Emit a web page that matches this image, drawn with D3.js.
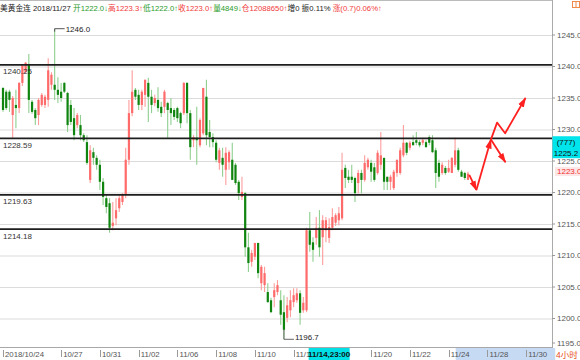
<!DOCTYPE html>
<html>
<head>
<meta charset="utf-8">
<script src="https://cdn.jsdelivr.net/npm/d3@7"></script>
<style>
  body { margin: 0; background: #fff; }
  svg { display: block; font-family: "Liberation Sans", Arial, "Noto Sans CJK SC", sans-serif; }
</style>
</head>
<body>
<div id="chart"></div>
<script>
// 4h bars, 2018/10/24 .. 2018/11/27
var opens  = [1236.6,1236.0,1236.0,1232.3,1233.9,1233.4,1237.4,1239.1,1240.4,1234.4,
              1233.1,1232.3,1233.9,1233.9,1234.7,1237.1,1237.1,1236.3,1236.0,1237.4,
              1235.8,1233.9,1231.8,1230.7,1230.7,1229.1,1228.0,1222.0,1226.4,1225.5,
              1224.4,1221.7,1219.1,1218.3,1214.7,1215.9,1217.5,1218.5,1219.6,1225.2,
              1232.6,1236.3,1235.5,1233.9,1235.5,1237.4,1235.2,1234.2,1234.7,1233.6,
              1233.6,1234.2,1233.4,1233.1,1233.4,1232.6,1232.6,1237.4,1232.6,1228.3,
              1228.7,1227.5,1229.4,1235.2,1229.6,1228.8,1227.9,1224.7,1225.5,1223.6,
              1224.8,1225.2,1224.4,1221.7,1219.3,1219.9,1211.3,1209.0,1209.8,1212.0,
              1205.6,1205.3,1204.2,1202.9,1203.4,1204.2,1202.9,1201.0,1200.1,1201.3,
              1202.6,1202.9,1204.0,1201.3,1201.3,1214.0,1212.1,1212.8,1214.4,1212.9,
              1214.0,1212.8,1214.4,1215.2,1215.6,1215.9,1223.9,1222.5,1222.5,1222.3,
              1221.5,1223.1,1222.0,1224.0,1224.7,1224.0,1223.1,1224.4,1225.5,1222.5,
              1221.7,1220.7,1223.1,1223.1,1225.9,1227.9,1227.1,1228.0,1228.3,1228.0,
              1227.9,1228.0,1228.8,1228.3,1226.7,1224.7,1223.1,1223.9,1223.3,1223.1,
              1224.4,1226.7,1223.3,1223.1,1222.0];
var highs  = [1236.7,1236.3,1236.3,1235.3,1236.3,1237.5,1240.4,1240.7,1242.0,1234.7,
              1233.4,1235.0,1235.8,1235.5,1241.3,1239.1,1246.0,1238.3,1237.4,1237.5,
              1236.0,1234.7,1233.4,1232.6,1232.3,1229.4,1229.1,1227.5,1227.1,1225.9,
              1225.2,1222.3,1219.6,1219.1,1218.5,1219.1,1219.6,1219.9,1227.1,1234.7,
              1239.4,1236.6,1236.3,1236.3,1237.9,1238.2,1236.3,1235.5,1236.7,1234.4,
              1236.3,1234.4,1235.0,1233.4,1233.6,1232.8,1237.5,1237.5,1233.1,1229.1,
              1233.6,1231.8,1236.6,1237.9,1231.5,1229.4,1228.3,1227.1,1227.1,1227.2,
              1226.7,1227.9,1224.7,1222.0,1222.5,1220.1,1213.6,1210.9,1212.0,1212.0,
              1208.5,1208.2,1205.6,1203.3,1205.6,1206.1,1204.5,1203.7,1203.4,1204.5,
              1204.8,1204.8,1204.5,1203.4,1214.4,1216.9,1212.9,1216.1,1217.2,1216.4,
              1216.1,1215.9,1217.5,1216.7,1217.7,1226.3,1224.4,1223.6,1224.4,1222.5,
              1223.6,1223.6,1225.9,1225.5,1225.2,1224.7,1226.7,1229.6,1225.5,1222.5,
              1222.8,1223.6,1225.2,1227.1,1230.7,1228.0,1228.2,1229.1,1229.6,1228.3,
              1228.7,1228.3,1229.1,1229.1,1227.1,1225.2,1224.8,1224.2,1225.2,1225.6,
              1228.7,1227.1,1223.6,1223.3,1223.3];
var lows   = [1232.8,1233.1,1232.8,1228.7,1230.2,1232.6,1236.9,1238.8,1232.6,1232.5,
              1230.7,1230.7,1233.6,1233.4,1233.6,1236.3,1234.7,1234.2,1234.4,1235.8,
              1229.6,1230.7,1228.3,1230.2,1228.3,1228.0,1224.4,1221.5,1224.4,1223.6,
              1220.4,1218.0,1216.7,1213.6,1214.0,1214.8,1216.9,1218.0,1219.1,1224.4,
              1232.1,1234.7,1233.1,1233.1,1233.6,1231.2,1232.6,1233.7,1232.8,1232.0,
              1232.6,1228.7,1230.7,1231.5,1231.2,1230.2,1232.3,1231.0,1225.2,1227.2,
              1224.4,1227.2,1229.1,1227.5,1227.2,1227.2,1224.8,1223.6,1222.5,1221.2,
              1223.6,1222.0,1221.2,1218.8,1218.8,1209.8,1207.4,1208.2,1209.3,1206.4,
              1204.5,1204.2,1202.5,1200.9,1201.8,1203.7,1199.0,1196.7,1199.4,1200.2,
              1201.8,1202.5,1199.0,1200.9,1201.0,1210.6,1209.0,1211.7,1209.8,1208.5,
              1212.1,1212.0,1214.0,1214.7,1214.8,1215.6,1220.7,1221.5,1221.5,1218.5,
              1219.9,1219.9,1221.7,1223.6,1221.7,1221.7,1222.8,1223.6,1220.4,1220.4,
              1220.4,1220.4,1222.5,1222.8,1225.6,1225.9,1226.7,1227.5,1227.5,1227.2,
              1227.5,1227.1,1227.5,1226.3,1220.7,1221.7,1222.8,1222.8,1223.1,1223.1,
              1224.0,1223.3,1222.5,1222.0,1222.0];
var closes = [1233.1,1233.4,1234.7,1235.0,1233.4,1237.4,1240.2,1240.6,1234.7,1232.8,
              1231.8,1234.7,1235.5,1235.2,1239.4,1238.7,1236.3,1235.5,1235.0,1236.0,
              1230.7,1231.2,1229.1,1232.3,1229.1,1228.3,1224.7,1226.7,1225.5,1224.4,
              1221.7,1219.3,1217.7,1214.4,1215.2,1217.2,1219.1,1219.6,1225.2,1232.6,
              1236.0,1235.2,1233.9,1236.0,1237.9,1235.2,1233.9,1235.0,1233.4,1232.6,
              1236.0,1233.1,1232.6,1232.0,1231.8,1231.0,1237.4,1232.6,1227.2,1228.8,
              1228.3,1231.5,1236.6,1229.1,1228.8,1228.0,1225.2,1226.7,1224.4,1226.3,
              1226.4,1222.0,1221.5,1219.9,1220.1,1211.3,1208.8,1210.4,1212.0,1207.2,
              1208.2,1207.2,1202.6,1201.0,1204.5,1205.3,1200.6,1198.2,1202.1,1202.9,
              1203.7,1204.0,1200.9,1202.5,1214.0,1211.7,1210.9,1214.4,1211.3,1215.6,
              1215.6,1214.5,1216.1,1216.4,1216.7,1223.6,1222.3,1222.0,1222.0,1219.9,
              1223.1,1222.0,1224.7,1225.2,1223.3,1222.0,1226.3,1225.9,1221.7,1221.7,
              1222.5,1223.3,1225.2,1226.7,1227.9,1226.3,1227.9,1227.5,1227.9,1227.5,
              1228.3,1227.2,1227.9,1226.4,1223.1,1222.5,1224.4,1223.1,1223.9,1225.5,
              1226.7,1223.6,1222.5,1222.3,1223.0];

var levels     = [1240.25, 1228.59, 1219.63, 1214.18];
var priceTicks = [1245, 1240, 1235, 1230, 1225, 1220, 1215, 1210, 1205, 1200, 1195];
var dateTicks  = [0, 18, 30, 42, 54, 66, 78, 90, 114, 126, 138, 150, 162];
var dateLabels = ['2018/10/24', '10/27', '10/31', '11/02', '11/06', '11/08', '11/10',
                  '11/1', '11/20', '11/22', '11/24', '11/28', '11/30'];
var cursorBar = 101, cursorLabel = '11/14,23:00';
var cursorPrice = 1225.2, cursorCount = '(777)';
var axisShade = [140.2, 171];
var highMark = {bar: 16, price: 1246.0};
var lowMark = {bar: 87, price: 1196.7};
// hand drawn forecast arrows, [bar, price]
var arrowPaths = [
  [[144.4, 1222.8], [146.6, 1220.4]],
  [[146.6, 1220.4], [151.1, 1228.4]],
  [[151.1, 1228.4], [153.0, 1231.1], [155.5, 1229.4], [161.8, 1235.0]],
  [[151.1, 1228.4], [155.6, 1224.8]]
];

var W = 580, H = 360, plotR = 552, plotB = 347;
var x = d3.scaleLinear().domain([0, opens.length - 1]).range([3, 468]);
var y = d3.scaleLinear().domain([1245, 1195]).range([35, 350]);

var svg = d3.select('#chart').append('svg').attr('width', W).attr('height', H);
svg.append('defs').append('clipPath').attr('id', 'plot')
   .append('rect').attr('x', 0).attr('y', 0).attr('width', plotR).attr('height', plotB);
svg.select('defs').append('marker')
   .attr('id', 'head').attr('markerUnits', 'userSpaceOnUse')
   .attr('markerWidth', 12).attr('markerHeight', 8)
   .attr('refX', 9).attr('refY', 4).attr('orient', 'auto')
   .append('path').attr('d', 'M0,0.8 L10,4 L0,7.2 Z').attr('fill', '#ff2020');

var plot = svg.append('g').attr('clip-path', 'url(#plot)');

// grid
plot.selectAll('line.grid').data(priceTicks).enter().append('line')
    .attr('x1', 0).attr('x2', plotR)
    .attr('y1', function(d){ return y(d) + 0.5 }).attr('y2', function(d){ return y(d) + 0.5 })
    .attr('stroke', '#dcdcdc').attr('stroke-width', 1.2);

// candles
var bars = d3.range(opens.length);
var up = function(i){ return closes[i] >= opens[i] };
plot.selectAll('line.wick').data(bars).enter().append('line')
    .attr('x1', function(i){ return x(i) }).attr('x2', function(i){ return x(i) })
    .attr('y1', function(i){ return y(highs[i]) }).attr('y2', function(i){ return y(lows[i]) })
    .attr('stroke', function(i){ return up(i) ? '#ff9c9c' : '#8fcf8f' })
    .attr('stroke-width', 1.1);
plot.selectAll('rect.body').data(bars).enter().append('rect')
    .attr('x', function(i){ return x(i) - 1.1 }).attr('width', 2.2)
    .attr('y', function(i){ return y(Math.max(opens[i], closes[i])) })
    .attr('height', function(i){ return Math.max(1, Math.abs(y(opens[i]) - y(closes[i]))) })
    .attr('fill', function(i){ return up(i) ? '#ff6a6a' : '#0f840f' });

// support / resistance lines
plot.selectAll('line.level').data(levels).enter().append('line')
    .attr('x1', 0).attr('x2', plotR)
    .attr('y1', function(d){ return y(d) }).attr('y2', function(d){ return y(d) })
    .attr('stroke', '#1e1e1e').attr('stroke-width', 1.7);
plot.selectAll('text.level').data(levels).enter().append('text')
    .attr('x', 3).attr('y', function(d){ return y(d) + 9.5 })
    .attr('font-size', 8).attr('fill', '#333')
    .text(function(d){ return d.toFixed(2) });

// high / low marks
var hx = x(highMark.bar), hy = y(highMark.price);
plot.append('path').attr('d', 'M' + hx + ',' + (hy + 3) + 'V' + hy + 'H' + (hx + 10))
    .attr('fill', 'none').attr('stroke', '#555').attr('stroke-width', 1);
plot.append('text').attr('x', hx + 11).attr('y', hy).attr('dy', '0.35em')
    .attr('font-size', 8).attr('fill', '#222').text(highMark.price.toFixed(1));
var lx = x(lowMark.bar), ly = y(lowMark.price);
plot.append('path').attr('d', 'M' + lx + ',' + (ly - 10) + 'V' + ly + 'H' + (lx + 10))
    .attr('fill', 'none').attr('stroke', '#666').attr('stroke-width', 1);
plot.append('text').attr('x', lx + 11).attr('y', ly - 2).attr('dy', '0.35em')
    .attr('font-size', 8).attr('fill', '#222').text(lowMark.price.toFixed(1));

// forecast arrows
var arrowLine = d3.line().x(function(d){ return x(d[0]) }).y(function(d){ return y(d[1]) });
plot.selectAll('path.arrow').data(arrowPaths).enter().append('path')
    .attr('d', arrowLine).attr('fill', 'none')
    .attr('stroke', '#ff2020').attr('stroke-width', 1.8)
    .attr('stroke-linejoin', 'round')
    .attr('marker-end', 'url(#head)');

// header
var last = opens.length - 1;
var head = [
  ['美黄金连 ', '#222'], ['2018/11/27 ', '#222'],
  ['开' + opens[last].toFixed(1), '#2a9a2a'], ['↓', '#2a9a2a'],
  ['高' + highs[last].toFixed(1), '#f03a3a'], ['↑', '#f03a3a'],
  ['低' + lows[last].toFixed(1), '#2a9a2a'], ['↑', '#2a9a2a'],
  ['收' + closes[last].toFixed(1), '#f03a3a'], ['↑', '#f03a3a'],
  ['量4849', '#2a9a2a'], ['↓', '#2a9a2a'],
  ['仓12088650', '#f03a3a'], ['↑', '#f03a3a'],
  ['增0 振0.11% ', '#222'], ['涨(0.7)0.06%↑', '#f03a3a']
];
svg.append('text').attr('x', 0).attr('y', 10.5).attr('font-size', 7.7)
   .selectAll('tspan').data(head).enter().append('tspan')
   .attr('fill', function(d){ return d[1] }).text(function(d){ return d[0] });

// frame
svg.append('line').attr('x1', 0).attr('x2', plotR).attr('y1', 0.5).attr('y2', 0.5).attr('stroke', '#bbb');
svg.append('line').attr('x1', plotR + 0.5).attr('x2', plotR + 0.5).attr('y1', 0).attr('y2', H).attr('stroke', '#aaa');
svg.append('rect').attr('x', 572.5).attr('y', 1.5).attr('width', 7).attr('height', 6)
   .attr('fill', 'none').attr('stroke', '#f08a4a');
svg.append('line').attr('x1', 576).attr('x2', 576).attr('y1', 1.5).attr('y2', 7.5).attr('stroke', '#f08a4a');

// right price axis
var ra = svg.append('g');
ra.selectAll('line').data(priceTicks).enter().append('line')
  .attr('x1', plotR).attr('x2', plotR + 3)
  .attr('y1', function(d){ return Math.min(y(d), 343) }).attr('y2', function(d){ return Math.min(y(d), 343) })
  .attr('stroke', '#999');
ra.selectAll('text').data(priceTicks).enter().append('text')
  .attr('x', plotR + 5).attr('y', function(d){ return Math.min(y(d), 343) }).attr('dy', '0.35em')
  .attr('font-size', 8).attr('fill', '#555')
  .text(function(d){ return d.toFixed(1) });

// current price tag
var cy = y(closes[last]) - 2;
svg.append('rect').attr('x', plotR + 3).attr('y', cy - 4.5).attr('width', 25).attr('height', 9).attr('fill', '#fde6e6');
svg.append('text').attr('x', plotR + 5).attr('y', cy).attr('dy', '0.35em')
   .attr('font-size', 8).attr('fill', '#f03030').text(closes[last].toFixed(1));

// cursor price box
var by = y(cursorPrice);
svg.append('rect').attr('x', plotR + 0.5).attr('y', by - 23.5).attr('width', W - plotR).attr('height', 22)
   .attr('fill', '#00e4ec');
svg.append('text').attr('x', 566).attr('y', by - 18).attr('dy', '0.35em').attr('text-anchor', 'middle')
   .attr('font-size', 8).attr('fill', '#111').text(cursorCount);
svg.append('text').attr('x', 566).attr('y', by - 7).attr('dy', '0.35em').attr('text-anchor', 'middle')
   .attr('font-size', 8).attr('fill', '#111').text(cursorPrice.toFixed(1));

// bottom date axis
var ba = svg.append('g');
ba.append('rect').attr('x', x(axisShade[0])).attr('y', plotB + 1)
  .attr('width', Math.min(x(axisShade[1]), W) - x(axisShade[0])).attr('height', H - plotB - 1)
  .attr('fill', '#c6daf4');
ba.append('line').attr('x1', 0).attr('x2', plotR).attr('y1', plotB + 0.5).attr('y2', plotB + 0.5).attr('stroke', '#a8a8a8');
ba.selectAll('line.tick').data(dateTicks).enter().append('line')
  .attr('x1', function(d){ return Math.round(x(d)) + 0.5 }).attr('x2', function(d){ return Math.round(x(d)) + 0.5 })
  .attr('y1', plotB + 3).attr('y2', plotB + 10).attr('stroke', '#999');
ba.selectAll('text').data(dateTicks).enter().append('text')
  .attr('x', function(d){ return x(d) + 2 }).attr('y', plotB + 10)
  .attr('font-size', 7.8).attr('fill', '#555')
  .text(function(d, k){ return dateLabels[k] });
var cx = x(cursorBar);
ba.append('rect').attr('x', cx - 20.5).attr('y', plotB + 1).attr('width', 41).attr('height', H - plotB - 1)
  .attr('fill', '#00e0e6');
ba.append('text').attr('x', cx).attr('y', plotB + 10).attr('text-anchor', 'middle')
  .attr('font-size', 8).attr('font-weight', 'bold').attr('fill', '#111').text(cursorLabel);
ba.append('text').attr('x', 556).attr('y', plotB + 10.5)
  .attr('font-size', 8.5).attr('fill', '#e8501e').text('4小时');
</script>
</body>
</html>
